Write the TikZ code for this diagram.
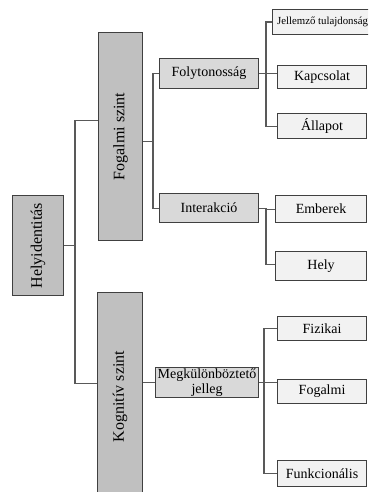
\documentclass[tikz,border=0pt]{standalone}
\usepackage{fontspec}
\setmainfont{Liberation Serif}
\definecolor{darkfill}{HTML}{C0C0C0}
\definecolor{midfill}{HTML}{D9D9D9}
\definecolor{leaffill}{HTML}{F2F2F2}
\definecolor{boxline}{HTML}{404040}
\definecolor{edgeline}{HTML}{595959}
\tikzset{
  anybox/.style={draw=boxline, line width=1.1pt, inner sep=0pt, anchor=north west, text=black},
  topbox/.style={anybox, fill=darkfill, font=\fontsize{16}{18}\selectfont},
  midbox/.style={anybox, fill=midfill, font=\fontsize{14}{15}\selectfont, align=center},
  leafbox/.style={anybox, fill=leaffill, font=\fontsize{14}{15}\selectfont},
  conn/.style={draw=edgeline, line width=1.1pt}
}
\begin{document}
\begin{tikzpicture}[x=1pt,y=-1pt]
\clip (0,0) rectangle (368,492);
\fill[white] (0,0) rectangle (368,492);
% top level
\node[topbox, minimum width=51pt, minimum height=100pt] (hely) at (12,195) {\rotatebox{90}{Helyidentitás}};
\node[topbox, minimum width=44pt, minimum height=208pt] (fog) at (98,32) {\rotatebox{90}{Fogalmi szint}};
\node[topbox, minimum width=45pt, minimum height=208pt] (kog) at (97,292) {\rotatebox{90}{Kognitív szint}};
% middle
\node[midbox, minimum width=99pt, minimum height=30pt] (foly) at (159,58) {Folytonosság};
\node[midbox, minimum width=99pt, minimum height=29pt] (inter) at (159,193) {Interakció};
\node[midbox, minimum width=103pt, minimum height=30pt] (megk) at (155,367) {Megkülönböztető\\jelleg};
% leaves
\node[leafbox, minimum width=100pt, minimum height=25pt, font=\fontsize{10.8}{12}\selectfont] (jell) at (272,9) {Jellemző tulajdonság};
\node[leafbox, minimum width=89pt, minimum height=23pt] (kap) at (277,65) {Kapcsolat};
\node[leafbox, minimum width=89pt, minimum height=25pt] (all) at (277,113) {Állapot};
\node[leafbox, minimum width=91pt, minimum height=27pt] (emb) at (275,195) {Emberek};
\node[leafbox, minimum width=91pt, minimum height=29pt] (hly) at (275,251) {Hely};
\node[leafbox, minimum width=89pt, minimum height=24pt] (fiz) at (277,316) {Fizikai};
\node[leafbox, minimum width=89pt, minimum height=24pt] (fogl) at (277,379) {Fogalmi};
\node[leafbox, minimum width=89pt, minimum height=26pt] (funk) at (277,460) {Funkcionális};
% connectors
\coordinate (t1) at (75,0);
\draw[conn] (hely.east) -- (hely.east -| t1) |- ([yshift=16pt]fog.west);
\draw[conn] (hely.east -| t1) |- ([yshift=13pt]kog.west);
\coordinate (t2) at (153,0);
\draw[conn] ([yshift=-5pt]fog.east) -- ([yshift=-5pt]fog.east -| t2) |- (foly.west);
\draw[conn] ([yshift=-5pt]fog.east -| t2) |- (inter.west);
\coordinate (t3) at (266,0);
\draw[conn] (foly.east) -- (kap.west |- foly.east);
\draw[conn] (foly.east -| t3) |- (jell.west);
\draw[conn] (foly.east -| t3) |- (all.west);
\draw[conn] (inter.east) -- (inter.east -| t3) |- (emb.west);
\draw[conn] (inter.east -| t3) |- ([yshift=2pt]hly.west);
\draw[conn] (kog.east |- megk.west) -- (megk.west);
\coordinate (t4) at (264,0);
\draw[conn] (megk.east) -- (fogl.west |- megk.east);
\draw[conn] (megk.east -| t4) |- (fiz.west);
\draw[conn] (megk.east -| t4) |- (funk.west);
\end{tikzpicture}
\end{document}
